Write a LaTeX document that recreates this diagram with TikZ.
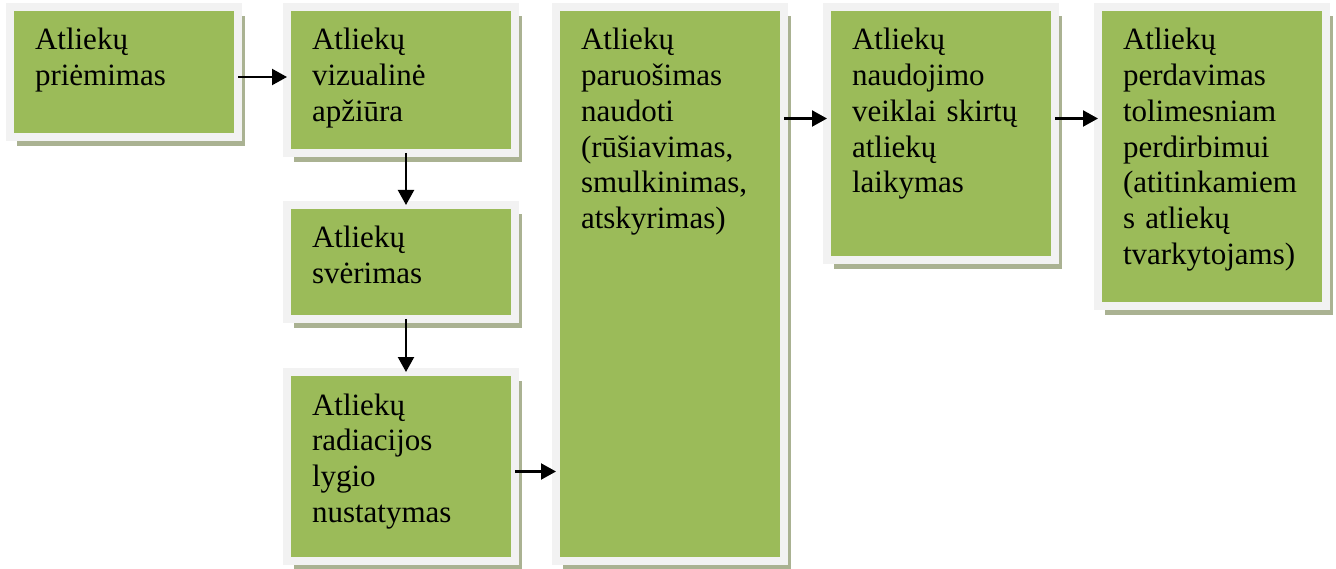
\documentclass[tikz,border=0pt]{standalone}
\usepackage{fontspec}
\setmainfont{Liberation Serif}
\usepackage{xcolor}
\usetikzlibrary{arrows.meta,shadows}
\definecolor{leafgreen}{RGB}{155,187,89}
\definecolor{framegray}{RGB}{242,242,242}
\definecolor{shadeolive}{RGB}{170,178,146}
\lefthyphenmin=62
\tikzstyle{stage} = [rectangle, anchor=north west, fill=leafgreen, draw=framegray, line width=8pt, outer sep=0pt, drop shadow={shadow xshift=7pt, shadow yshift=-9pt, fill=shadeolive, opacity=1}, text width=178pt, inner xsep=25pt, inner ysep=0pt, align=left, text height=43pt, font=\fontsize{31}{35.7}\selectfont]
\tikzstyle{line} = [draw, line width=2.2pt, -{Triangle[length=15pt,width=16pt]}]

\begin{document}
\begin{tikzpicture}[x=1pt, y=-1pt]
\useasboundingbox (0,0) rectangle (1336,569);
\node [stage, text depth=87pt] (priemimas) at (10,7) {Atliekų\\priėmimas};
\node [stage, text depth=103pt] (apziura) at (287,7) {Atliekų\\vizualinė\\apžiūra};
\node [stage, text depth=71pt] (sverimas) at (287,205) {Atliekų\\svėrimas};
\node [stage, text depth=146pt] (radiacija) at (287,372) {Atliekų\\radiacijos\\lygio\\nustatymas};
\node [stage, text depth=511pt] (paruosimas) at (556,7) {Atliekų\\paruošimas\\naudoti\\(rūšiavimas,\\smulkinimas,\\atskyrimas)};
\node [stage, text depth=210pt] (laikymas) at (827,7) {Atliekų\\naudojimo\\veiklai skirtų\\atliekų\\laikymas};
\node [stage, text depth=256pt] (perdavimas) at (1098,7) {Atliekų\\perdavimas\\tolimesniam\\perdirbimui\\(atitinkamiem\\s atliekų\\tvarkytojams)};
\path [line] ([yshift=-5pt]priemimas.east) -- ([yshift=-5pt]priemimas.east -| apziura.west);
\path [line] ([xshift=5pt]apziura.south) -- ([xshift=5pt]sverimas.north);
\path [line] ([xshift=5pt]sverimas.south) -- ([xshift=5pt]radiacija.north);
\path [line] ([yshift=-5pt]radiacija.east) -- ([yshift=-5pt]radiacija.east -| paruosimas.west);
\path [line] ([yshift=15pt]laikymas.west -| paruosimas.east) -- ([yshift=15pt]laikymas.west);
\path [line] ([yshift=15pt]laikymas.east) -- ([yshift=15pt]laikymas.east -| perdavimas.west);
\end{tikzpicture}
\end{document}
